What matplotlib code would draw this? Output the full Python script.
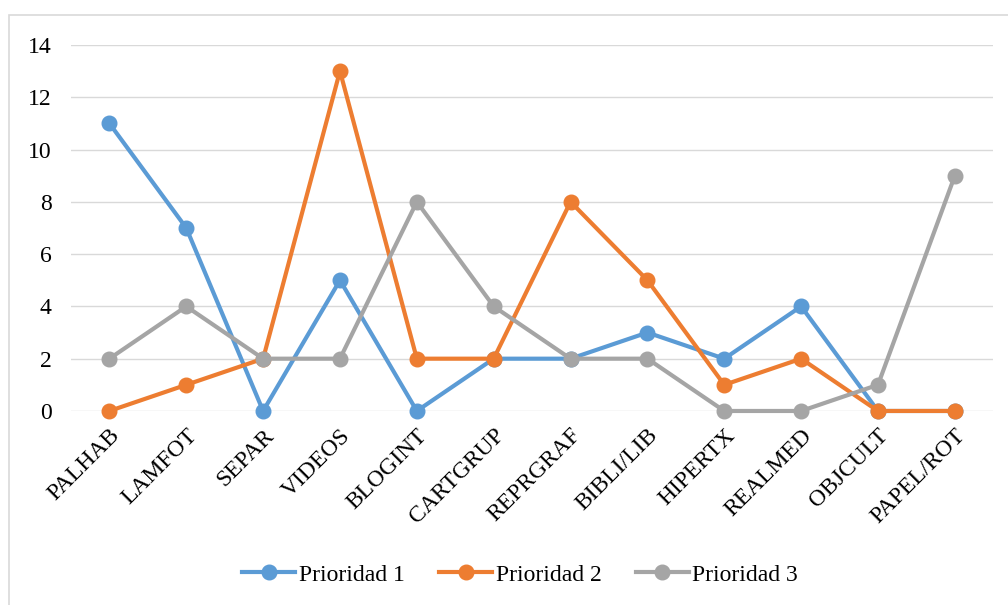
import numpy as np
import matplotlib.pyplot as plt
from matplotlib.patches import Rectangle

categorias = ["PALHAB", "LAMFOT", "SEPAR", "VIDEOS", "BLOGINT", "CARTGRUP",
              "REPRGRAF", "BIBLI/LIB", "HIPERTX", "REALMED", "OBJCULT", "PAPEL/ROT"]
prioridad1 = [11, 7, 0, 5, 0, 2, 2, 3, 2, 4, 0, 0]
prioridad2 = [0, 1, 2, 13, 2, 2, 8, 5, 1, 2, 0, 0]
prioridad3 = [2, 4, 2, 2, 8, 4, 2, 2, 0, 0, 1, 9]

series = [("Prioridad 1", prioridad1, "#5B9BD5"),
          ("Prioridad 2", prioridad2, "#ED7D31"),
          ("Prioridad 3", prioridad3, "#A5A5A5")]

plt.rcParams['font.family'] = ['Liberation Serif', 'DejaVu Serif']

fig = plt.figure(figsize=(10.08, 6.05), dpi=100)
ax = fig.add_axes([0.0704, 0.3207, 0.915, 0.605])

# borde exterior tipo Excel
fig.patches.append(Rectangle((9 / 1008, -0.01), 1.02, 1 - 15 / 605 + 0.01,
                             transform=fig.transFigure, fill=False,
                             edgecolor="#D9D9D9", linewidth=1.2))

x = np.arange(len(categorias))
for nombre, vals, color in series:
    ax.plot(x, vals, color=color, linewidth=3, marker="o", markersize=10.5,
            label=nombre, clip_on=False, zorder=3)

ax.set_xlim(-0.5, len(categorias) - 0.5)
ax.set_ylim(0, 14)
ax.set_yticks(range(0, 15, 2))
ax.grid(axis="y", color="#D9D9D9", linewidth=1)
ax.set_axisbelow(True)
for s in ax.spines.values():
    s.set_visible(False)
ax.tick_params(length=0, labelsize=17)
ax.tick_params(axis="y", pad=14)
ax.tick_params(axis="x", pad=10)
ax.set_xticks(x)
ax.set_xticklabels(categorias, rotation=45, ha="right", rotation_mode="anchor")

fig.legend(loc="center", bbox_to_anchor=(0.516, 0.05), ncol=3, frameon=False,
           fontsize=17, handlelength=2.25, columnspacing=1.45, handletextpad=0.15)

plt.savefig("out.png", dpi=100)
